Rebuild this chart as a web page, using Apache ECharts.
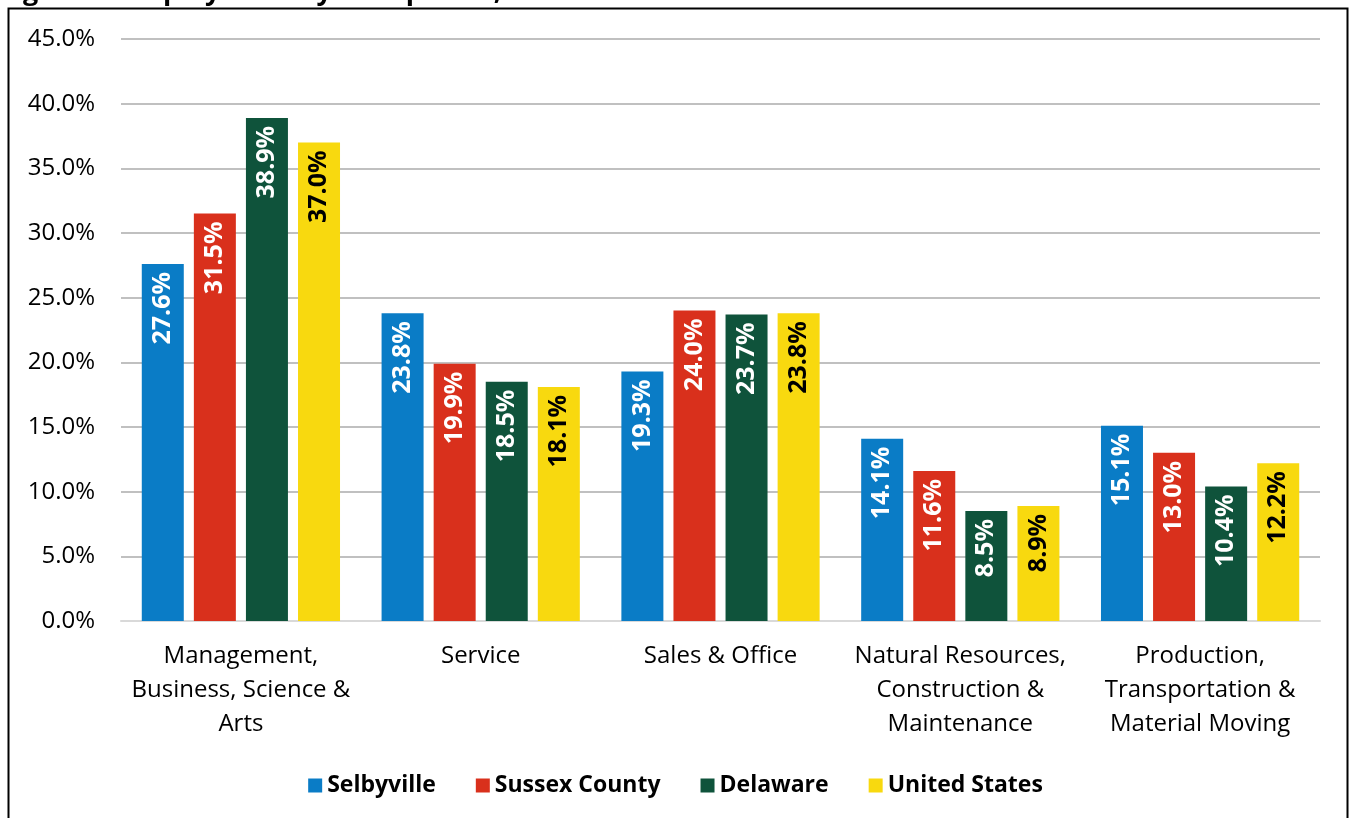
<!DOCTYPE html>
<html>
<head>
<meta charset="utf-8">
<script src="https://cdn.jsdelivr.net/npm/echarts@6/dist/echarts.min.js"></script>
<style>
  html, body { margin: 0; padding: 0; background: #fff; }
  #chart { width: 1351px; height: 818px; }
</style>
</head>
<body>
<div id="chart"></div>
<script>
const categories = [
  'Management,\nBusiness, Science &\nArts',
  'Service',
  'Sales & Office',
  'Natural Resources,\nConstruction &\nMaintenance',
  'Production,\nTransportation &\nMaterial Moving'
];
const selbyville = [27.6, 23.8, 19.3, 14.1, 15.1];
const sussexCounty = [31.5, 19.9, 24.0, 11.6, 13.0];
const delaware = [38.9, 18.5, 23.7, 8.5, 10.4];
const unitedStates = [37.0, 18.1, 23.8, 8.9, 12.2];

const fontFam = '"Open Sans", "Noto Sans", sans-serif';

function makeSeries(name, data, color, labelColor) {
  return {
    name: name,
    type: 'bar',
    data: data,
    barWidth: 42,
    barGap: '24%',
    itemStyle: { color: color },
    label: {
      show: true,
      position: 'insideTop',
      rotate: 90,
      align: 'right',
      verticalAlign: 'middle',
      distance: 8,
      color: labelColor,
      fontFamily: fontFam,
      fontWeight: 'bold',
      fontSize: 25,
      formatter: p => p.value.toFixed(1) + '%'
    }
  };
}

let myChart = echarts.init(document.getElementById('chart'));
let option = {
  animation: false,
  graphic: [
    {
      type: 'text',
      left: 0,
      top: -21,
      style: {
        text: 'Figure 5: Employment by Occupation, 2019',
        font: 'bold 27px ' + fontFam,
        fill: '#000'
      }
    },
    {
      type: 'rect',
      shape: { x: 8.5, y: 8.5, width: 1339, height: 830 },
      style: { fill: 'none', stroke: '#000', lineWidth: 2 }
    }
  ],
  legend: {
    top: 769,
    left: 'center',
    itemWidth: 14,
    itemHeight: 14,
    itemGap: 40,
    icon: 'rect',
    textStyle: { fontFamily: fontFam, fontWeight: 'bold', fontSize: 23, color: '#000' },
    data: ['Selbyville', 'Sussex County', 'Delaware', 'United States']
  },
  grid: { left: 121, right: 31, top: 39, bottom: 197 },
  xAxis: {
    type: 'category',
    data: categories,
    axisTick: { show: false },
    axisLine: { lineStyle: { color: '#D9D9D9', width: 2 } },
    axisLabel: {
      color: '#000',
      fontFamily: fontFam,
      fontSize: 24,
      lineHeight: 34,
      margin: 18,
      interval: 0
    }
  },
  yAxis: {
    type: 'value',
    min: 0,
    max: 45,
    interval: 5,
    axisLabel: {
      color: '#000',
      fontFamily: fontFam,
      fontSize: 24,
      margin: 26,
      formatter: v => v.toFixed(1) + '%'
    },
    splitLine: { lineStyle: { color: '#C0C0C0', width: 2 } }
  },
  series: [
    makeSeries('Selbyville', selbyville, '#0A7CC6', '#fff'),
    makeSeries('Sussex County', sussexCounty, '#D9301C', '#fff'),
    makeSeries('Delaware', delaware, '#0F533B', '#fff'),
    makeSeries('United States', unitedStates, '#F8D90F', '#000')
  ]
};
myChart.setOption(option);
</script>
</body>
</html>
